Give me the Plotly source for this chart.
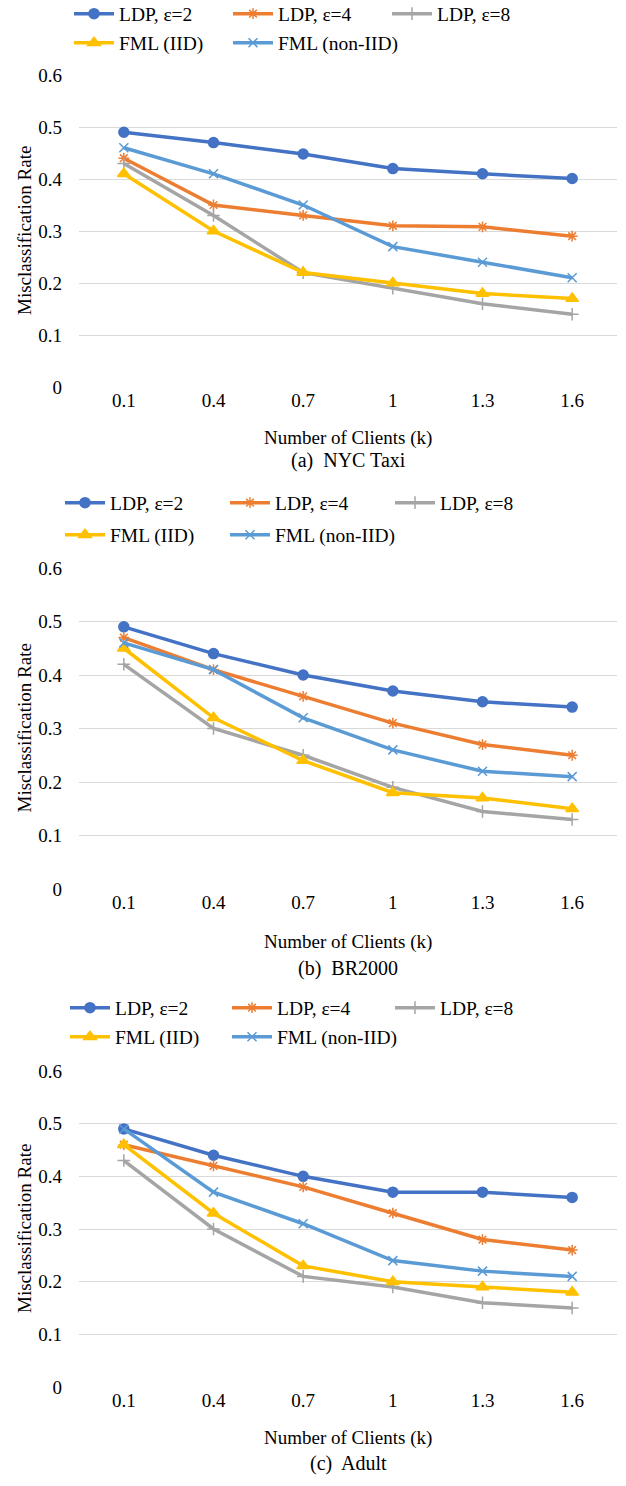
import plotly.graph_objects as go

clients = ["0.1", "0.4", "0.7", "1", "1.3", "1.6"]
series_names = ["LDP, ε=2", "LDP, ε=4", "LDP, ε=8", "FML (IID)", "FML (non-IID)"]

nyc_ldp2 = [0.49, 0.47, 0.448, 0.42, 0.41, 0.401]
nyc_ldp4 = [0.44, 0.35, 0.33, 0.31, 0.308, 0.29]
nyc_ldp8 = [0.43, 0.33, 0.22, 0.19, 0.16, 0.14]
nyc_iid = [0.41, 0.30, 0.22, 0.20, 0.18, 0.17]
nyc_noniid = [0.46, 0.41, 0.35, 0.27, 0.24, 0.21]

br_ldp2 = [0.49, 0.44, 0.40, 0.37, 0.35, 0.34]
br_ldp4 = [0.47, 0.41, 0.36, 0.31, 0.27, 0.25]
br_ldp8 = [0.42, 0.30, 0.25, 0.19, 0.145, 0.13]
br_iid = [0.45, 0.32, 0.24, 0.18, 0.17, 0.15]
br_noniid = [0.46, 0.41, 0.32, 0.26, 0.22, 0.21]

ad_ldp2 = [0.49, 0.44, 0.40, 0.37, 0.37, 0.36]
ad_ldp4 = [0.46, 0.42, 0.38, 0.33, 0.28, 0.26]
ad_ldp8 = [0.43, 0.30, 0.21, 0.19, 0.16, 0.15]
ad_iid = [0.46, 0.33, 0.23, 0.20, 0.19, 0.18]
ad_noniid = [0.49, 0.37, 0.31, 0.24, 0.22, 0.21]

captions = ["(a)  NYC Taxi", "(b)  BR2000", "(c)  Adult"]
x_title = "Number of Clients (k)"
y_title = "Misclassification Rate"
y_ticks = [0, 0.1, 0.2, 0.3, 0.4, 0.5, 0.6]

colors = ["#4472C4", "#ED7D31", "#A5A5A5", "#FFC000", "#5B9BD5"]
symbols = ["circle", "asterisk-open", "cross-thin-open", "triangle-up", "x-thin-open"]
msizes = [10, 9, 9, 11, 9]

panels = [
    [nyc_ldp2, nyc_ldp4, nyc_ldp8, nyc_iid, nyc_noniid],
    [br_ldp2, br_ldp4, br_ldp8, br_iid, br_noniid],
    [ad_ldp2, ad_ldp4, ad_ldp8, ad_iid, ad_noniid],
]

W, H = 626, 1486
FONT = "Liberation Serif"

# target pixel layout in the page
px_layout = [
    dict(top=75, bot=387, r1=14, r2=43, cols=(119, 278, 437), xt=438, cap=460),
    dict(top=568, bot=889, r1=503, r2=535, cols=(110, 275, 440), xt=942, cap=968),
    dict(top=1071, bot=1387, r1=1008, r2=1037, cols=(115, 277, 440), xt=1438, cap=1463),
]
x_left, x_right = 79, 617
LEG_TEXT_OFFSET = 50


def px_x(x):
    return x / W


def px_y(y):
    return 1 - y / H


fig = go.Figure()
layout = dict(
    width=W, height=H, margin=dict(l=0, r=0, t=0, b=0, autoexpand=False),
    paper_bgcolor="white", plot_bgcolor="white",
    font=dict(family=FONT, size=18, color="#000000"),
    showlegend=True,
)

annotations = []
leg_idx = 0
for p, data in enumerate(panels):
    L = px_layout[p]
    xa = "x" if p == 0 else f"x{p+1}"
    ya = "y" if p == 0 else f"y{p+1}"
    for i in range(5):
        leg_idx += 1
        leg = "legend" if leg_idx == 1 else f"legend{leg_idx}"
        row_y = L["r1"] if i < 3 else L["r2"]
        col_x = L["cols"][i % 3]
        fig.add_trace(go.Scatter(
            x=clients, y=data[i], name=series_names[i], mode="lines+markers",
            line=dict(color=colors[i], width=3.5),
            marker=dict(symbol=symbols[i], size=msizes[i], color=colors[i],
                        line=dict(color=colors[i], width=1.5)),
            xaxis=xa, yaxis=ya, legend=leg,
        ))
        layout[leg] = dict(
            orientation="h", x=px_x(col_x - LEG_TEXT_OFFSET), xanchor="left",
            y=px_y(row_y), yanchor="middle",
            font=dict(family=FONT, size=19.5), bgcolor="rgba(0,0,0,0)",
            itemwidth=40,
        )
    xkey = "xaxis" if p == 0 else f"xaxis{p+1}"
    ykey = "yaxis" if p == 0 else f"yaxis{p+1}"
    layout[xkey] = dict(
        domain=[px_x(x_left), px_x(x_right)], anchor=ya,
        type="category", categoryorder="array", categoryarray=clients,
        range=[-0.5, len(clients) - 0.5], autorange=False,
        showgrid=False, showline=False, zeroline=False, ticks="",
        tickfont=dict(family=FONT, size=19),
    )
    layout[ykey] = dict(
        domain=[px_y(L["bot"]), px_y(L["top"])], anchor=xa,
        range=[0, 0.6], tickvals=y_ticks, ticktext=[f"{v:g}" for v in y_ticks],
        showgrid=True, gridcolor="#D9D9D9", gridwidth=1.3,
        zeroline=False, showline=False, ticks="", ticklabelstandoff=16,
        tickfont=dict(family=FONT, size=19),
    )
    annotations.append(dict(
        text=x_title, x=px_x((x_left + x_right) / 2), y=px_y(L["xt"]), xref="paper", yref="paper",
        showarrow=False, font=dict(family=FONT, size=19), xanchor="center", yanchor="middle",
    ))
    annotations.append(dict(
        text=y_title, x=px_x(24), y=px_y((L["top"] + L["bot"]) / 2), xref="paper", yref="paper",
        textangle=-90, showarrow=False, font=dict(family=FONT, size=19),
        xanchor="center", yanchor="middle",
    ))
    annotations.append(dict(
        text=captions[p], x=px_x((x_left + x_right) / 2), y=px_y(L["cap"]), xref="paper", yref="paper",
        showarrow=False, font=dict(family=FONT, size=20), xanchor="center", yanchor="middle",
    ))

layout["annotations"] = annotations
fig.update_layout(**layout)
fig.write_html(
    "out.html",
    config={"displayModeBar": False},
    post_script="document.body.style.margin='0px';",
)
